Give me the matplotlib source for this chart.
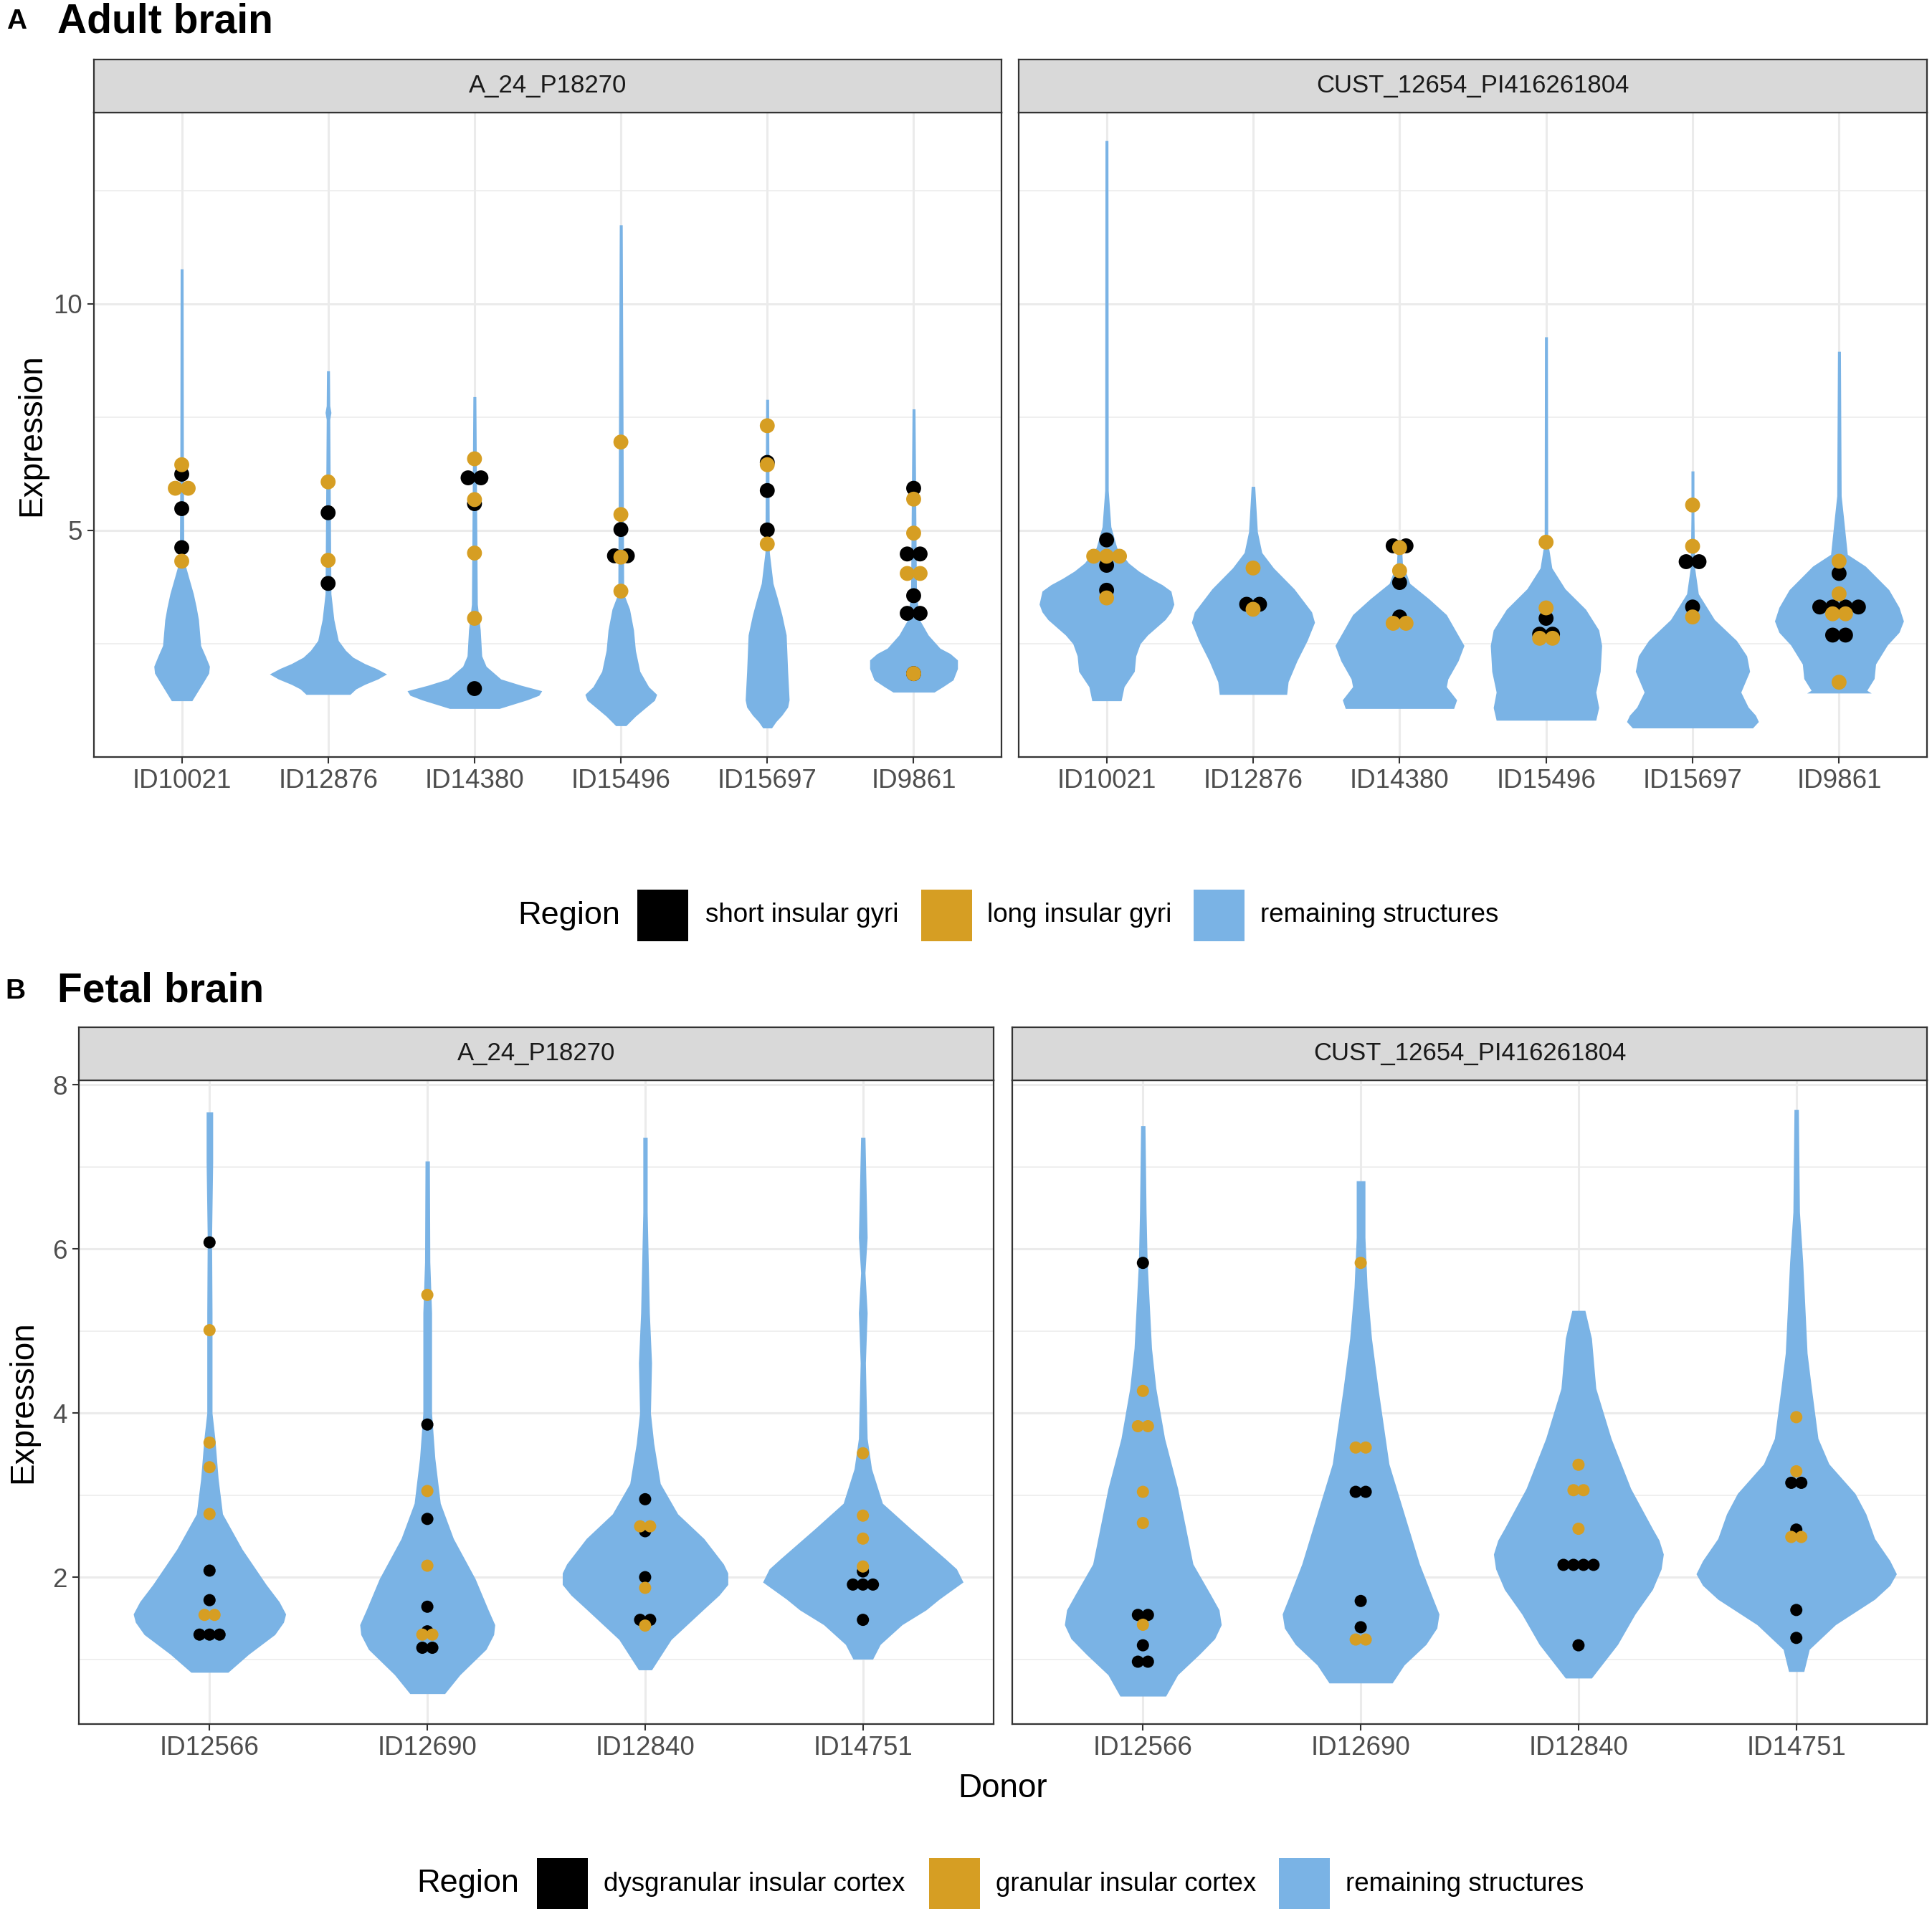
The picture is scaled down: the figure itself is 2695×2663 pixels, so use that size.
import matplotlib
matplotlib.use("Agg")
import matplotlib.pyplot as plt
from matplotlib.patches import Rectangle
from matplotlib.ticker import FixedLocator
from collections import Counter

plt.rcParams['font.family'] = ['Liberation Sans', 'DejaVu Sans']

# ---- data ----
probes = ["A_24_P18270", "CUST_12654_PI416261804"]
adult_donors = ["ID10021", "ID12876", "ID14380", "ID15496", "ID15697", "ID9861"]
fetal_donors = ["ID12566", "ID12690", "ID12840", "ID14751"]
adult_regions = ["short insular gyri", "long insular gyri", "remaining structures"]
fetal_regions = ["dysgranular insular cortex", "granular insular cortex", "remaining structures"]

# violin outlines: expression levels and half width (in donor units)
adult_a24_y = [
    [1.24, 1.45, 1.66, 1.85, 2.0, 2.2, 2.46, 3.03, 3.3, 3.6, 3.94, 4.17, 4.4, 6.45, 10.77],
    [1.38, 1.5, 1.6, 1.72, 1.83, 1.95, 2.06, 2.2, 2.35, 2.57, 3.03, 3.6, 7.45, 7.6, 7.75, 8.52],
    [1.07, 1.16, 1.26, 1.36, 1.46, 1.58, 1.72, 2.0, 2.23, 2.8, 3.37, 7.95],
    [0.69, 0.9, 1.09, 1.25, 1.38, 1.55, 1.89, 2.35, 2.8, 3.26, 3.6, 11.74],
    [0.64, 0.78, 0.92, 1.1, 1.26, 1.89, 2.69, 3.14, 3.5, 3.83, 4.51, 7.89],
    [1.43, 1.55, 1.7, 1.95, 2.14, 2.28, 2.4, 2.69, 3.03, 3.6, 7.68],
]
adult_a24_w = [
    [0.07, 0.11, 0.15, 0.185, 0.19, 0.165, 0.13, 0.115, 0.1, 0.08, 0.05, 0.03, 0.015, 0.012, 0.01],
    [0.15, 0.19, 0.25, 0.34, 0.40, 0.33, 0.25, 0.17, 0.12, 0.07, 0.04, 0.02, 0.012, 0.02, 0.012, 0.01],
    [0.17, 0.26, 0.36, 0.44, 0.46, 0.32, 0.18, 0.08, 0.05, 0.04, 0.02, 0.01],
    [0.035, 0.1, 0.17, 0.23, 0.245, 0.19, 0.13, 0.1, 0.087, 0.06, 0.02, 0.01],
    [0.03, 0.06, 0.1, 0.14, 0.15, 0.14, 0.13, 0.1, 0.07, 0.04, 0.015, 0.01],
    [0.14, 0.2, 0.27, 0.3, 0.3, 0.25, 0.18, 0.1, 0.04, 0.02, 0.01],
]
adult_cust_y = [
    [1.24, 1.55, 1.89, 2.23, 2.5, 2.69, 3.03, 3.2, 3.37, 3.66, 3.8, 3.94, 4.1, 4.28, 4.62, 5.08, 5.88, 13.6],
    [1.38, 1.66, 2.12, 2.57, 2.97, 3.2, 3.37, 3.71, 4.17, 4.51, 4.97, 5.97],
    [1.07, 1.26, 1.55, 1.72, 2.12, 2.46, 2.8, 3.14, 3.49, 3.83, 4.28, 4.79],
    [0.81, 1.09, 1.43, 1.89, 2.46, 2.8, 3.26, 3.71, 4.17, 4.74, 9.27],
    [0.64, 0.78, 0.92, 1.1, 1.43, 1.89, 2.23, 2.57, 3.03, 3.6, 4.17, 5.31, 6.31],
    [1.41, 1.47, 1.73, 2.05, 2.47, 2.75, 3.0, 3.3, 3.69, 4.21, 4.47, 5.0, 5.31, 5.76, 8.95],
]
adult_cust_w = [
    [0.1, 0.12, 0.19, 0.2, 0.23, 0.28, 0.40, 0.44, 0.46, 0.44, 0.38, 0.3, 0.22, 0.15, 0.07, 0.03, 0.012, 0.01],
    [0.23, 0.24, 0.30, 0.37, 0.42, 0.40, 0.36, 0.28, 0.14, 0.06, 0.03, 0.012],
    [0.37, 0.39, 0.32, 0.33, 0.40, 0.44, 0.38, 0.32, 0.2, 0.07, 0.02, 0.012],
    [0.34, 0.36, 0.34, 0.37, 0.38, 0.36, 0.27, 0.13, 0.04, 0.012, 0.01],
    [0.41, 0.45, 0.43, 0.38, 0.33, 0.39, 0.37, 0.3, 0.15, 0.04, 0.015, 0.01, 0.01],
    [0.22, 0.19, 0.24, 0.25, 0.33, 0.41, 0.44, 0.41, 0.34, 0.18, 0.057, 0.04, 0.03, 0.015, 0.01],
]
fetal_a24_y = [
    [0.84, 1.06, 1.3, 1.45, 1.55, 1.7, 1.91, 2.34, 2.77, 3.2, 3.69, 4.0, 5.22, 6.14, 7.06, 7.67],
    [0.58, 0.81, 1.12, 1.3, 1.42, 1.6, 1.98, 2.47, 2.9, 3.45, 4.0, 4.61, 5.22, 5.84, 7.07],
    [0.87, 1.24, 1.61, 1.78, 1.91, 2.05, 2.16, 2.47, 2.77, 3.14, 3.63, 4.0, 4.61, 5.22, 6.45, 7.36],
    [1.0, 1.18, 1.42, 1.6, 1.73, 1.94, 2.1, 2.22, 2.59, 2.9, 3.32, 3.69, 4.24, 4.61, 5.22, 5.71, 6.14, 7.36],
]
fetal_a24_w = [
    [0.085, 0.18, 0.30, 0.34, 0.35, 0.32, 0.26, 0.15, 0.06, 0.04, 0.025, 0.012, 0.012, 0.01, 0.015, 0.015],
    [0.08, 0.15, 0.27, 0.305, 0.31, 0.28, 0.22, 0.12, 0.06, 0.035, 0.02, 0.02, 0.02, 0.012, 0.01],
    [0.03, 0.12, 0.27, 0.34, 0.38, 0.38, 0.36, 0.27, 0.15, 0.07, 0.04, 0.025, 0.03, 0.02, 0.01, 0.01],
    [0.045, 0.08, 0.18, 0.29, 0.35, 0.46, 0.43, 0.38, 0.22, 0.09, 0.04, 0.02, 0.015, 0.012, 0.02, 0.01, 0.02, 0.01],
]
fetal_cust_y = [
    [0.55, 0.81, 1.06, 1.25, 1.42, 1.6, 1.79, 2.16, 3.08, 3.69, 4.3, 4.79, 5.84, 6.45, 7.5],
    [0.71, 0.93, 1.18, 1.38, 1.55, 1.75, 2.16, 2.77, 3.38, 4.3, 4.91, 5.53, 6.14, 6.83],
    [0.77, 1.18, 1.55, 1.85, 2.1, 2.28, 2.45, 2.59, 3.08, 3.69, 4.3, 4.91, 5.25],
    [0.85, 1.12, 1.42, 1.73, 1.9, 2.04, 2.2, 2.47, 2.77, 3.02, 3.38, 3.69, 4.3, 4.73, 5.84, 6.45, 7.7],
]
fetal_cust_w = [
    [0.105, 0.16, 0.26, 0.33, 0.36, 0.35, 0.31, 0.23, 0.16, 0.10, 0.06, 0.04, 0.02, 0.015, 0.01],
    [0.145, 0.2, 0.30, 0.35, 0.36, 0.33, 0.27, 0.2, 0.13, 0.08, 0.05, 0.03, 0.02, 0.02],
    [0.06, 0.18, 0.26, 0.34, 0.38, 0.39, 0.37, 0.34, 0.24, 0.15, 0.08, 0.06, 0.03],
    [0.035, 0.06, 0.18, 0.36, 0.43, 0.46, 0.43, 0.36, 0.32, 0.27, 0.15, 0.1, 0.07, 0.05, 0.03, 0.015, 0.01],
]

# insular samples (black = first region, gold = second region)
adult_a24_black = [[6.24, 5.48, 4.62], [5.39, 3.83], [6.16, 6.16, 5.59, 1.51],
                   [5.02, 4.44, 4.44], [6.50, 5.88, 5.01],
                   [5.93, 4.48, 4.48, 3.56, 3.17, 3.17, 1.84]]
adult_a24_gold = [[6.45, 5.93, 5.93, 4.32], [6.07, 4.34], [6.58, 5.68, 4.50, 3.06],
                  [6.95, 5.35, 4.41, 3.66], [7.31, 6.45, 4.70],
                  [5.69, 4.94, 4.05, 4.05, 1.84]]
adult_cust_black = [[4.79, 4.23, 3.68], [3.37, 3.37], [4.66, 4.66, 3.85, 3.09],
                    [3.06, 2.71, 2.71], [4.31, 4.31, 3.31],
                    [4.05, 3.31, 3.31, 3.31, 3.31, 2.69, 2.69]]
adult_cust_gold = [[4.43, 4.43, 4.43, 3.51], [4.17, 3.26], [4.62, 4.11, 2.95, 2.95],
                   [4.74, 3.29, 2.62, 2.62], [5.56, 4.65, 3.09],
                   [4.32, 3.6, 3.16, 3.16, 1.65]]
fetal_a24_black = [[6.08, 2.08, 1.72, 1.30, 1.30, 1.30], [3.86, 2.71, 1.64, 1.34, 1.14, 1.14],
                   [2.95, 2.56, 2.0, 1.48, 1.48], [2.07, 1.91, 1.91, 1.91, 1.48]]
fetal_a24_gold = [[5.01, 3.64, 3.34, 2.77, 1.54, 1.54], [5.44, 3.05, 2.14, 1.30, 1.30],
                  [2.62, 2.62, 1.87, 1.41], [3.51, 2.75, 2.47, 2.13]]
fetal_cust_black = [[5.83, 1.54, 1.54, 1.17, 0.97, 0.97], [3.04, 3.04, 1.71, 1.39],
                    [2.15, 2.15, 2.15, 2.15, 1.17], [3.15, 3.15, 2.58, 1.6, 1.26]]
fetal_cust_gold = [[4.27, 3.84, 3.84, 3.04, 2.66, 1.42], [5.83, 3.58, 3.58, 1.24, 1.24],
                   [3.37, 3.06, 3.06, 2.59], [3.95, 3.29, 2.49, 2.49]]

# ---- style ----
BLUE = '#7AB3E5'
GOLD = '#D69E23'
BLACK = '#000000'
DARK = '#333333'
GRID = '#EBEBEB'
W, H = 2695, 2663


def px_rect(x0, y0, x1, y1):
    """figure rectangle from pixel box (top-left origin)"""
    return [x0 / W, 1 - y1 / H, (x1 - x0) / W, (y1 - y0) / H]


def stack(values, step):
    xs, ys = [], []
    for v, n in Counter(values).items():
        for k in range(n):
            xs.append((k - (n - 1) / 2) * step)
            ys.append(v)
    return xs, ys


def draw_strip(fig, box, label):
    sax = fig.add_axes(px_rect(*box))
    sax.set_facecolor('#D9D9D9')
    sax.set_xticks([])
    sax.set_yticks([])
    for s in sax.spines.values():
        s.set_color(DARK)
        s.set_linewidth(1.6)
    sax.text(0.5, 0.5, label, ha='center', va='center', fontsize=25,
             color='#1A1A1A', transform=sax.transAxes)


def draw_panel(ax, donors, vy, vw, black, gold, step, size, ylim,
               major, minor, show_y):
    for i in range(len(donors)):
        ax.fill_betweenx(vy[i], [i - w for w in vw[i]], [i + w for w in vw[i]],
                         color=BLUE, lw=0, zorder=2)
        bx, by = stack(black[i], step)
        ax.scatter([i + x for x in bx], by, s=size, color=BLACK,
                   edgecolors='none', zorder=3)
        gx, gy = stack(gold[i], step)
        ax.scatter([i + x for x in gx], gy, s=size, color=GOLD,
                   edgecolors='none', zorder=4)
    ax.set_xlim(-0.6, len(donors) - 0.4)
    ax.set_ylim(*ylim)
    ax.set_xticks(range(len(donors)))
    ax.set_xticklabels(donors)
    ax.set_yticks(major)
    ax.yaxis.set_minor_locator(FixedLocator(minor))
    ax.set_axisbelow(True)
    ax.grid(which='major', color=GRID, lw=2.2, zorder=0)
    ax.grid(which='minor', axis='y', color=GRID, lw=1.1, zorder=0)
    ax.tick_params(which='major', length=6.5, width=1.5, color=DARK,
                   labelcolor='#4D4D4D', labelsize=26.5, pad=5)
    ax.tick_params(which='minor', length=0)
    if not show_y:
        ax.tick_params(axis='y', length=0, labelleft=False)
    for s in ax.spines.values():
        s.set_color(DARK)
        s.set_linewidth(1.6)


def draw_legend(fig, y, title_x, key_x, label_x, labels):
    fy = 1 - y / H
    fig.text(title_x / W, fy, "Region", fontsize=32.5, ha='left', va='center')
    for kx, lx, lab, col in zip(key_x, label_x, labels, [BLACK, GOLD, BLUE]):
        fig.patches.append(Rectangle((kx / W, (1 - (y + 36) / H)), 71 / W, 72 / H,
                                     transform=fig.transFigure, color=col,
                                     lw=0, figure=fig))
        fig.text(lx / W, fy, lab, fontsize=26.5, ha='left', va='center')


fig = plt.figure(figsize=(W / 100, H / 100), dpi=100)

# panel A: adult brain
fig.text(9 / W, 1 - 40 / H, "A", fontsize=28, fontweight='bold', va='baseline')
fig.text(80 / W, 1 - 45 / H, "Adult brain", fontsize=41, fontweight='bold',
         va='baseline')
a_boxes = [(131, 157, 1397, 1056), (1421, 157, 2688, 1056)]
a_data = [(adult_a24_y, adult_a24_w, adult_a24_black, adult_a24_gold),
          (adult_cust_y, adult_cust_w, adult_cust_black, adult_cust_gold)]
for k, (box, d) in enumerate(zip(a_boxes, a_data)):
    ax = fig.add_axes(px_rect(*box))
    draw_panel(ax, adult_donors, *d, step=0.088, size=225, ylim=(0.0, 14.22),
               major=[5, 10], minor=[2.5, 7.5, 12.5], show_y=(k == 0))
    draw_strip(fig, (box[0], 83, box[2], 157), probes[k])
    if k == 0:
        ax.set_ylabel("Expression", fontsize=33, labelpad=6)

draw_legend(fig, 1277, 722, [889, 1285, 1665], [984, 1377, 1758], adult_regions)

# panel B: fetal brain
fig.text(7 / W, 1 - 1393 / H, "B", fontsize=28, fontweight='bold', va='baseline')
fig.text(80 / W, 1 - 1397 / H, "Fetal brain", fontsize=41, fontweight='bold',
         va='baseline')
b_boxes = [(110, 1507, 1386, 2405), (1412, 1507, 2688, 2405)]
b_data = [(fetal_a24_y, fetal_a24_w, fetal_a24_black, fetal_a24_gold),
          (fetal_cust_y, fetal_cust_w, fetal_cust_black, fetal_cust_gold)]
for k, (box, d) in enumerate(zip(b_boxes, b_data)):
    ax = fig.add_axes(px_rect(*box))
    draw_panel(ax, fetal_donors, *d, step=0.046, size=150, ylim=(0.21, 8.055),
               major=[2, 4, 6, 8], minor=[1, 3, 5, 7], show_y=(k == 0))
    draw_strip(fig, (box[0], 1433, box[2], 1507), probes[k])
    if k == 0:
        ax.set_ylabel("Expression", fontsize=33, labelpad=14)

fig.text(1399 / W, 1 - 2495 / H, "Donor", fontsize=33, ha='center', va='center')
draw_legend(fig, 2628, 581, [749, 1296, 1784], [842, 1389, 1877], fetal_regions)

fig.savefig("out.png", dpi=100)
